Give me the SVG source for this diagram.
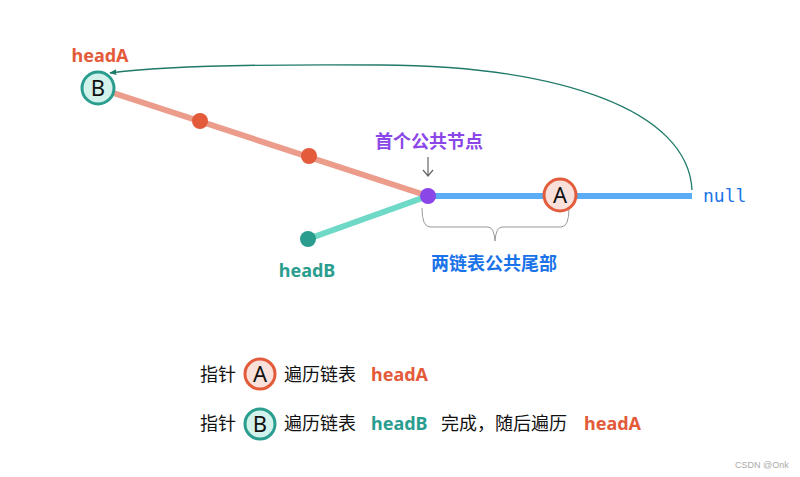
<svg xmlns="http://www.w3.org/2000/svg" width="800" height="477" viewBox="0 0 800 477">
<style>
.lbl{font-family:"Noto Sans","Noto Sans CJK SC",sans-serif;font-weight:bold;font-size:18px}
.cn{font-family:"Noto Sans","Noto Sans CJK SC",sans-serif;font-size:18px;fill:#111}
.letter{font-family:"Noto Sans","Liberation Sans",sans-serif;font-size:22px;fill:#111;text-anchor:middle}
.red{fill:#e35b3a}
.teal{fill:#2a9d8f}
.ca{fill:#fae0da;stroke:#e35b3a;stroke-width:3}
.cb{fill:#d3f2ec;stroke:#2a9d8f;stroke-width:3}
</style>
<defs>
<marker id="ah" viewBox="0 0 10 10" refX="9" refY="5" markerWidth="7" markerHeight="7" orient="auto-start-reverse" markerUnits="userSpaceOnUse">
<path d="M0,1 L10,5 L0,9 z" fill="#1f7a6a"/>
</marker>
</defs>
<rect width="800" height="477" fill="#fff"/>
<g id="connectors">
<line x1="98" y1="88" x2="428" y2="196" stroke="#ec9c8a" stroke-width="6"/>
<line x1="308" y1="239" x2="428" y2="196" stroke="#6dd9c6" stroke-width="6"/>
<line x1="428" y1="196" x2="692" y2="196" stroke="#5aacf5" stroke-width="6"/>
<path d="M692 190 C688 110 560 66 380 65 C250 64 160 66 110 73" fill="none" stroke="#1f7a6a" stroke-width="1.3" marker-end="url(#ah)"/>
<path d="M428 157 L428 176 M423 170 L428 176 L433 170" fill="none" stroke="#666" stroke-width="1.2"/>
<path d="M422 208 Q422 227 430 227 L488 227 Q494 227 495 241 Q496 227 502 227 L561 227 Q569 227 569 208" fill="none" stroke="#999" stroke-width="1"/>
</g>
<g id="nodeB">
<circle cx="98" cy="88" r="16" class="cb"/>
<text x="98" y="96" class="letter">B</text>
<text x="100" y="62" class="lbl red" text-anchor="middle">headA</text>
</g>
<g id="dot1"><circle cx="200" cy="121" r="8" class="red"/></g>
<g id="dot2"><circle cx="309" cy="156" r="8" class="red"/></g>
<g id="headB"><circle cx="308" cy="239" r="8" class="teal"/>
<text x="307" y="277" class="lbl teal" text-anchor="middle">headB</text></g>
<g id="common"><circle cx="428" cy="196" r="8" fill="#8b46e8"/>
<text x="429" y="148" class="lbl" fill="#8b46e8" text-anchor="middle">首个公共节点</text></g>
<g id="nodeA"><circle cx="560" cy="195" r="16" class="ca"/>
<text x="560" y="203" class="letter">A</text></g>
<g id="null"><text x="703" y="202" font-family="'DejaVu Sans Mono',monospace" font-size="18" fill="#1a73e8">null</text></g>
<g id="tail"><text x="494" y="270" class="lbl" fill="#1a73e8" text-anchor="middle">两链表公共尾部</text></g>
<g id="legend1">
<text x="200" y="381" class="cn">指针</text>
<circle cx="260" cy="374" r="15" class="ca"/>
<text x="260" y="382" class="letter">A</text>
<text x="284" y="381" class="cn">遍历链表</text>
<text x="371" y="381" class="lbl red">headA</text>
</g>
<g id="legend2">
<text x="200" y="430" class="cn">指针</text>
<circle cx="260" cy="424" r="15" class="cb"/>
<text x="260" y="432" class="letter">B</text>
<text x="284" y="430" class="cn">遍历链表</text>
<text x="371" y="430" class="lbl teal">headB</text>
<text x="441" y="430" class="cn">完成，随后遍历</text>
<text x="584" y="430" class="lbl red">headA</text>
</g>
<text x="735" y="468" font-family="'Liberation Sans',sans-serif" font-size="9" fill="#aaa">CSDN @Onk</text>
</svg>
